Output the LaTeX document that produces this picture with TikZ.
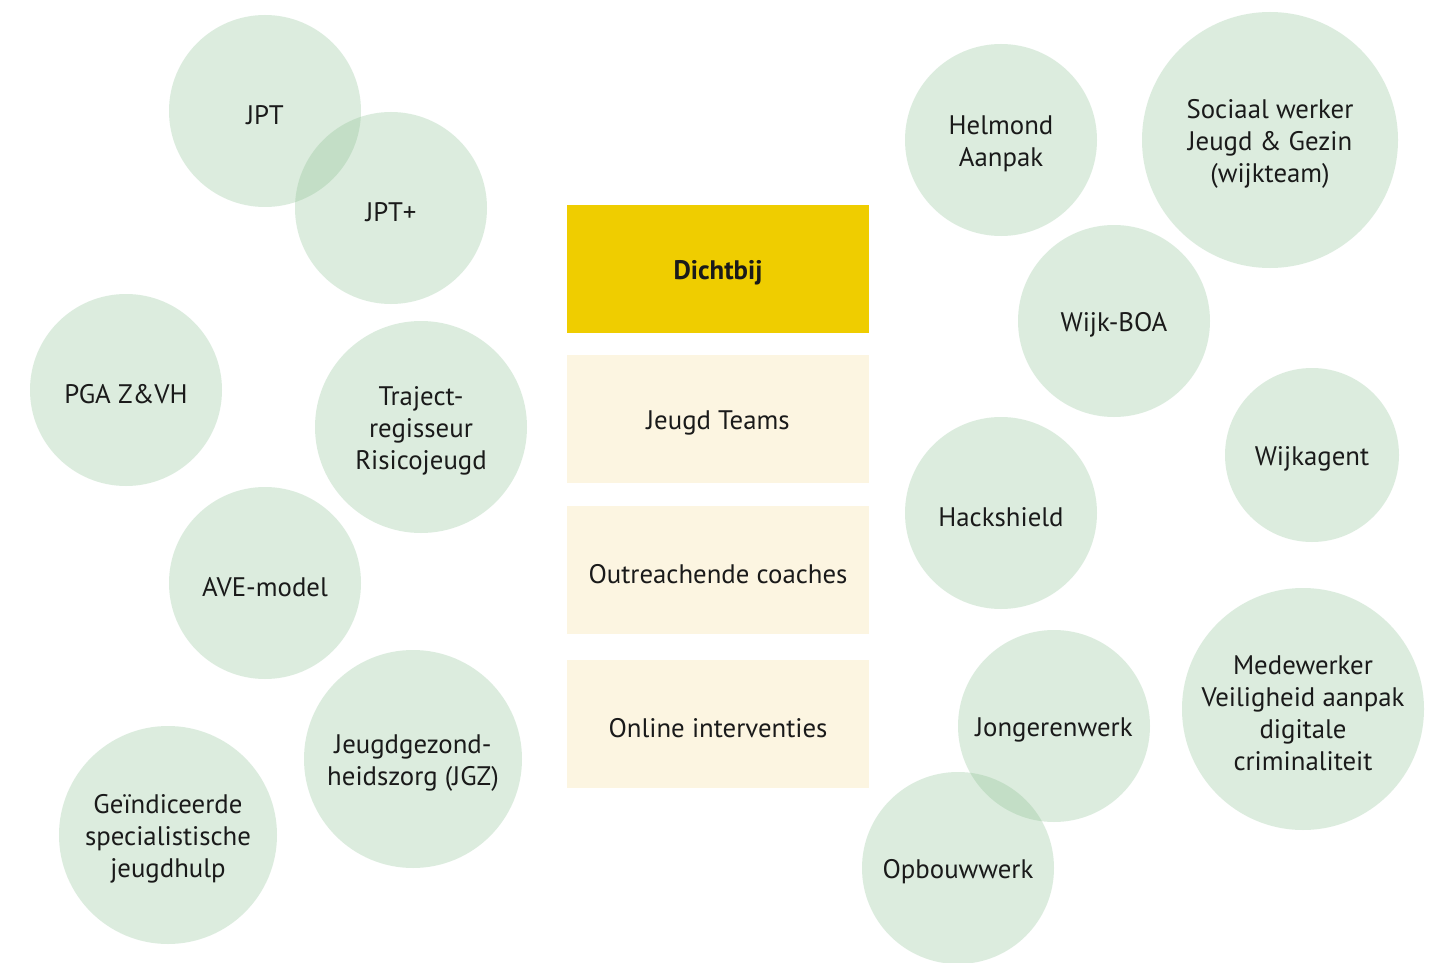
\documentclass[tikz,border=0pt]{standalone}
\usepackage{fontspec}
\setmainfont{PT Sans}
\definecolor{bubble}{RGB}{127,187,134}
\definecolor{gold}{RGB}{239,205,0}
\definecolor{cream}{RGB}{252,245,225}
\definecolor{ink}{RGB}{26,26,26}
\begin{document}
\begin{tikzpicture}[x=0.5pt,y=-0.5pt,
  bub/.style={circle,fill=bubble,fill opacity=0.265,minimum size=#1 pt,inner sep=0pt},
  txt/.style={text=ink,align=center,inner sep=0pt,font=\fontsize{13.4}{16}\selectfont},
  box/.style={rectangle,minimum width=151pt,minimum height=64pt,inner sep=0pt}]
\useasboundingbox (0,0) rectangle (1436,963);
\fill[white] (0,0) rectangle (1436,963);
% boxes
\node[box,fill=gold] (dichtbij) at (718,269) {};
\node[box,fill=cream] (jeugd) at (718,419) {};
\node[box,fill=cream] (outreach) at (718,570) {};
\node[box,fill=cream] (online) at (718,724) {};
\node[txt,font=\bfseries\fontsize{13.4}{16}\selectfont] (tdichtbij) at ([yshift=-2pt]dichtbij.center) {Dichtbij};
\node[txt] (tjeugd) at ([yshift=-2pt]jeugd.center) {Jeugd Teams};
\node[txt] (toutreach) at ([yshift=-2pt]outreach.center) {Outreachende coaches};
\node[txt] (tonline) at ([yshift=-2pt]online.center) {Online interventies};
% left bubbles
\node[bub=96] (jpt) at (265,111) {};
\node[bub=96] (jptp) at (391,208) {};
\node[bub=96] (pga) at (126,390) {};
\node[bub=106] (traject) at (421,427) {};
\node[bub=96] (ave) at (265,583) {};
\node[bub=109] (jgz) at (413,759) {};
\node[bub=109] (geind) at (168,835) {};
% right bubbles
\node[bub=96] (helmond) at (1001,140) {};
\node[bub=128] (sociaal) at (1270,140) {};
\node[bub=96] (boa) at (1114,321) {};
\node[bub=87] (agent) at (1312,455) {};
\node[bub=96] (hack) at (1001,513) {};
\node[bub=96] (jonger) at (1054,726) {};
\node[bub=121] (medew) at (1303,709) {};
\node[bub=96] (opbouw) at (958,868) {};
% labels
\node[txt] (tjpt) at ([yshift=-2pt]jpt.center) {JPT};
\node[txt] (tjptp) at ([yshift=-2pt]jptp.center) {JPT+};
\node[txt] (tpga) at ([yshift=-2pt]pga.center) {PGA Z\&VH};
\node[txt] (ttraject) at ([yshift=-2pt]traject.center) {Traject-\\regisseur\\Risicojeugd};
\node[txt] (tave) at ([yshift=-2pt]ave.center) {AVE-model};
\node[txt] (tjgz) at ([yshift=-2pt]jgz.center) {Jeugdgezond-\\heidszorg (JGZ)};
\node[txt] (tgeind) at ([yshift=-2pt]geind.center) {Geïndiceerde\\specialistische\\jeugdhulp};
\node[txt] (thelmond) at ([yshift=-2pt]helmond.center) {Helmond\\Aanpak};
\node[txt] (tsociaal) at ([yshift=-2pt]sociaal.center) {Sociaal werker\\Jeugd \& Gezin\\(wijkteam)};
\node[txt] (tboa) at ([yshift=-2pt]boa.center) {Wijk-BOA};
\node[txt] (tagent) at ([yshift=-2pt]agent.center) {Wijkagent};
\node[txt] (thack) at ([yshift=-2pt]hack.center) {Hackshield};
\node[txt] (tjonger) at ([yshift=-2pt]jonger.center) {Jongerenwerk};
\node[txt] (tmedew) at ([yshift=-2pt]medew.center) {Medewerker\\Veiligheid aanpak\\digitale\\criminaliteit};
\node[txt] (topbouw) at ([yshift=-2pt]opbouw.center) {Opbouwwerk};
\end{tikzpicture}
\end{document}
